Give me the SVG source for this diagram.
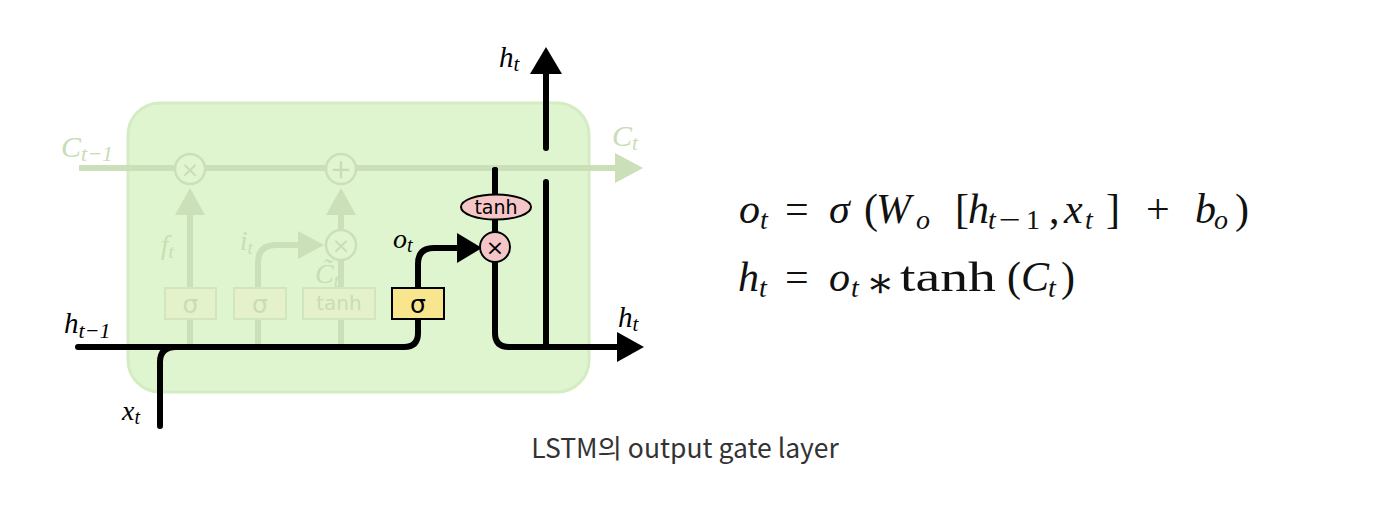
<svg xmlns="http://www.w3.org/2000/svg" width="1380" height="526" viewBox="0 0 1380 526">
<style>
.math{font-family:"Liberation Serif","DejaVu Serif",serif;font-style:italic;}
.sans{font-family:"DejaVu Sans","Liberation Sans",sans-serif;}
.fade{fill:#c8ddb4;}
.fline{fill:none;stroke:#cbe0b8;stroke-width:6;}
.bline{fill:none;stroke:#000;stroke-width:6;stroke-linecap:round;}
.fbox{fill:#e5f1ca;stroke:#d2e6bd;stroke-width:2;}
.fcirc{fill:#e0f5d0;stroke:#cbe0b8;stroke-width:2.5;}
.eq{font-family:"Liberation Serif","DejaVu Serif",serif;font-size:42px;fill:#111;}
.it{font-style:italic;}
.sub{font-size:28px;}
</style>
<rect width="1380" height="526" fill="#fff"/>
<g id="cell">
<rect x="128" y="103" width="461" height="289" rx="32" fill="#dff5cf" stroke="#d3ecc1" stroke-width="3"/>
</g>
<g id="connectors">
<path class="fline" d="M79,168 H616"/>
<polygon points="615,153 643,168 615,183" fill="#cbe0b8"/>
<path class="fline" d="M190,348 V212"/>
<polygon points="175,215 190,188 205,215" fill="#cbe0b8"/>
<path class="fline" d="M258,348 V263 Q258,245 276,245 H300"/>
<polygon points="298,231 324,245 298,259" fill="#cbe0b8"/>
<path class="fline" d="M341,348 V212"/>
<polygon points="326,215 341,188 356,215" fill="#cbe0b8"/>
<path class="bline" d="M78,347 H404 Q418,347 418,333 V264 Q418,248 434,248 H460" stroke-linecap="butt"/>
<polygon points="457,233 482,248 457,263" fill="#000"/>
<path class="bline" d="M160,426 V362 Q160,347 176,347" stroke-linecap="butt"/>
<path class="bline" d="M495,170 V333 Q495,347 509,347 H620" stroke-linecap="butt"/>
<path class="bline" d="M495,170 V175"/>
<polygon points="617,332 644,347 617,362" fill="#000"/>
<path class="bline" d="M546,345 V182"/>
<path class="bline" d="M546,148 V70"/>
<polygon points="530,74 546,47 562,74" fill="#000"/>
</g>
<g id="forget-mult">
<circle class="fcirc" cx="190" cy="169" r="15"/>
<text class="sans fade" x="190" y="177" font-size="22" text-anchor="middle">×</text>
</g>
<g id="input-add">
<circle class="fcirc" cx="341" cy="169" r="15"/>
<text class="sans fade" x="341" y="178" font-size="26" text-anchor="middle">+</text>
</g>
<g id="input-mult">
<circle class="fcirc" cx="341" cy="245" r="15"/>
<text class="sans fade" x="341" y="253" font-size="22" text-anchor="middle">×</text>
</g>
<g id="forget-gate">
<rect class="fbox" x="165" y="288" width="51" height="31"/>
<text class="sans fade" x="190.5" y="313" font-size="25" text-anchor="middle">σ</text>
</g>
<g id="input-gate">
<rect class="fbox" x="234" y="288" width="52" height="31"/>
<text class="sans fade" x="260" y="313" font-size="25" text-anchor="middle">σ</text>
</g>
<g id="tanh-gate">
<rect class="fbox" x="303" y="288" width="72" height="31"/>
<text class="sans fade" x="339" y="310" font-size="20" text-anchor="middle">tanh</text>
</g>
<g id="output-gate">
<rect x="392" y="288" width="52" height="31" fill="#f8e68e" stroke="#000" stroke-width="2"/>
<text class="sans" x="418" y="313" font-size="25" text-anchor="middle" fill="#000">σ</text>
</g>
<g id="tanh-op">
<ellipse cx="496" cy="207" rx="35" ry="12.5" fill="#f5c6c8" stroke="#000" stroke-width="2"/>
<text class="sans" x="496" y="214" font-size="19" text-anchor="middle" fill="#000">tanh</text>
</g>
<g id="output-mult">
<circle cx="495" cy="247" r="15" fill="#f5c6c8" stroke="#000" stroke-width="2"/>
<text class="sans" x="495" y="255" font-size="22" text-anchor="middle" fill="#000">×</text>
</g>
<g id="labels">
<text class="math fade" x="61" y="157" font-size="30">C<tspan font-size="22" dy="4">t−1</tspan></text>
<text class="math fade" x="612" y="146" font-size="30">C<tspan font-size="21" dy="4">t</tspan></text>
<text class="math fade" x="161" y="254" font-size="27">f<tspan font-size="19" dy="4">t</tspan></text>
<text class="math fade" x="240" y="250" font-size="27">i<tspan font-size="19" dy="4">t</tspan></text>
<text class="math fade" x="315" y="283" font-size="28">C̃<tspan font-size="19" dy="4">t</tspan></text>
<text class="math" x="393" y="248" font-size="28" fill="#000">o<tspan font-size="20" dy="4">t</tspan></text>
<text class="math" x="499" y="67" font-size="29" fill="#000">h<tspan font-size="21" dy="4">t</tspan></text>
<text class="math" x="618" y="327" font-size="29" fill="#000">h<tspan font-size="21" dy="4">t</tspan></text>
<text class="math" x="64" y="333" font-size="29" fill="#000">h<tspan font-size="22" dy="5">t−1</tspan></text>
<text class="math" x="122" y="420" font-size="28" fill="#000">x<tspan font-size="20" dy="4">t</tspan></text>
</g>
<g id="equations">
<text class="eq"><tspan class="it" x="739" y="223">o</tspan><tspan class="it sub" x="760" y="229">t</tspan><tspan x="785" y="223">=</tspan><tspan class="it" x="829" y="223">σ</tspan><tspan x="864" y="223">(</tspan><tspan class="it" x="876" y="223">W</tspan><tspan class="it sub" x="916" y="229">o</tspan><tspan x="955" y="223">[</tspan><tspan class="it" x="968" y="223">h</tspan><tspan class="it sub" x="988" y="229">t</tspan><tspan class="sub" x="999" y="229" textLength="22" lengthAdjust="spacingAndGlyphs">−</tspan><tspan class="sub" x="1026" y="229">1</tspan><tspan x="1049" y="223">,</tspan><tspan class="it" x="1064" y="223">x</tspan><tspan class="it sub" x="1085" y="229">t</tspan><tspan x="1106" y="223">]</tspan><tspan x="1146" y="223">+</tspan><tspan class="it" x="1195" y="223">b</tspan><tspan class="it sub" x="1214" y="229">o</tspan><tspan x="1235" y="223">)</tspan></text>
<text class="eq"><tspan class="it" x="738" y="291">h</tspan><tspan class="it sub" x="759" y="297">t</tspan><tspan x="785" y="291">=</tspan><tspan class="it" x="829" y="291">o</tspan><tspan class="it sub" x="851" y="297">t</tspan><tspan x="866" y="297">∗</tspan><tspan x="900" y="291" textLength="96" lengthAdjust="spacingAndGlyphs">tanh</tspan><tspan x="1007" y="291">(</tspan><tspan class="it" x="1021" y="291">C</tspan><tspan class="it sub" x="1048" y="297">t</tspan><tspan x="1061" y="291">)</tspan></text>
</g>
<g id="caption">
<text x="685" y="458" font-family="'Noto Sans CJK KR','Noto Sans',sans-serif" font-size="26.5" fill="#333" text-anchor="middle">LSTM의 output gate layer</text>
</g>
</svg>
